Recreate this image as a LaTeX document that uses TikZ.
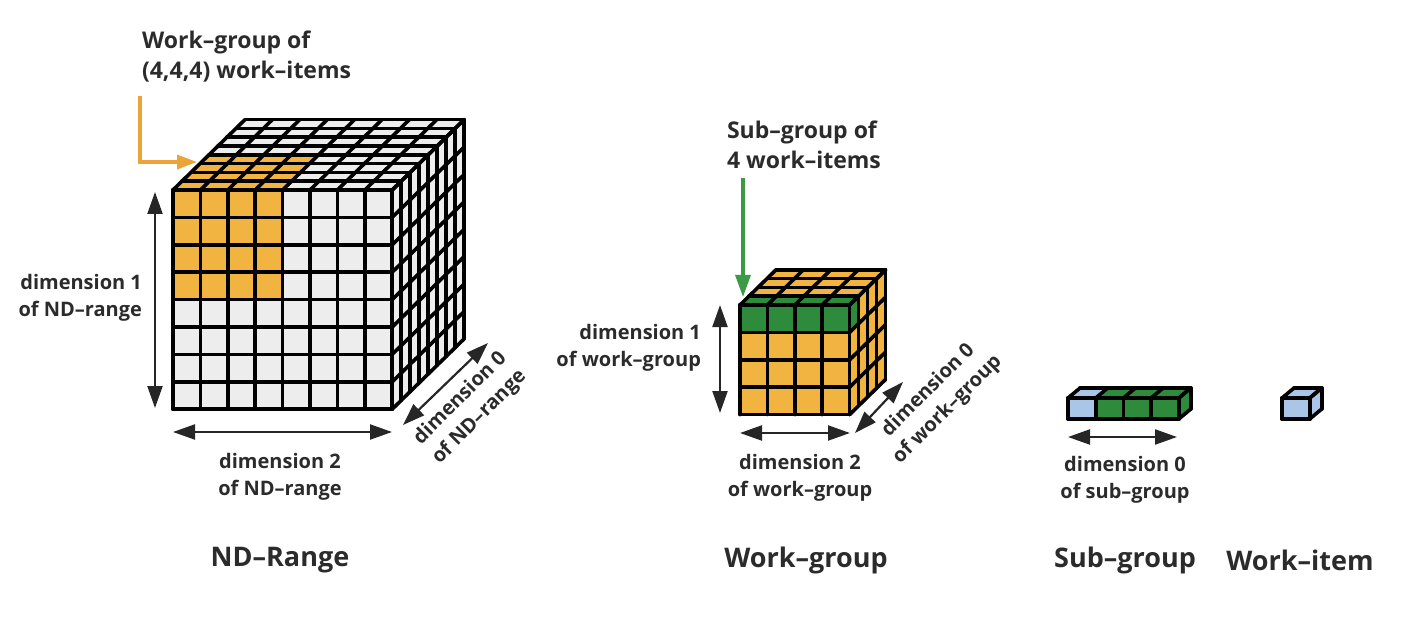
\documentclass[tikz,border=0pt]{standalone}
\usepackage{fontspec}
\setmainfont{Open Sans}
\usetikzlibrary{arrows.meta}
\definecolor{cellgray}{HTML}{EDEDED}
\definecolor{wgorange}{HTML}{F2B441}
\definecolor{sggreen}{HTML}{2E8B3C}
\definecolor{wiblue}{HTML}{A9C6E8}
\definecolor{arroworange}{HTML}{EBA43A}
\definecolor{arrowgreen}{HTML}{3C9A46}
\definecolor{labelgray}{HTML}{2B2B2B}
\tikzset{
  cellline/.style={line width=1.8pt, line join=round, line cap=round},
  bigaxes/.style={x={(13.7pt,0pt)}, y={(0pt,-13.7pt)}, z={(4.5pt,4.4pt)}},
  smallaxes/.style={x={(13.85pt,0pt)}, y={(0pt,-10.5pt)}, z={(6pt,5pt)}},
  dimarrow/.style={{Triangle[length=11pt,width=7.5pt]}-{Triangle[length=11pt,width=7.5pt]}, line width=1.1pt, draw=black!85},
  dimlabel/.style={font=\fontsize{10}{13.5}\selectfont\bfseries, text=labelgray},
  toplabel/.style={font=\fontsize{11.5}{15}\selectfont\bfseries, text=labelgray, align=left},
  paneltitle/.style={font=\fontsize{13.5}{16}\selectfont\bfseries, text=labelgray},
}
% faces of a cube of #1 x #2 x #3 cells, filled with #4
\newcommand{\cubefaces}[4]{
  \fill[#4] (0,0,0) -- (#1,0,0) -- (#1,#2,0) -- (0,#2,0) -- cycle;
  \fill[#4] (0,0,0) -- (#1,0,0) -- (#1,0,#3) -- (0,0,#3) -- cycle;
  \fill[#4] (#1,0,0) -- (#1,0,#3) -- (#1,#2,#3) -- (#1,#2,0) -- cycle;
}
% cell lines of the three faces
\newcommand{\cubegrid}[3]{
  \foreach \i in {0,...,#1} {
    \draw[cellline] (\i,0,0) -- (\i,#2,0);
    \draw[cellline] (\i,0,0) -- (\i,0,#3);
  }
  \foreach \j in {0,...,#2} {
    \draw[cellline] (0,\j,0) -- (#1,\j,0);
    \draw[cellline] (#1,\j,0) -- (#1,\j,#3);
  }
  \foreach \k in {0,...,#3} {
    \draw[cellline] (0,0,\k) -- (#1,0,\k);
    \draw[cellline] (#1,0,\k) -- (#1,#2,\k);
  }
}
\begin{document}
\begin{tikzpicture}[x=0.5pt, y=-0.5pt]
  \useasboundingbox (0,0) rectangle (1408,620);

  % ND-range
  \begin{scope}[shift={(173,190)}, bigaxes]
    \cubefaces{8}{8}{8}{cellgray}
    \fill[wgorange] (0,0,0) -- (4,0,0) -- (4,4,0) -- (0,4,0) -- cycle;
    \fill[wgorange] (0,0,0) -- (4,0,0) -- (4,0,4) -- (0,0,4) -- cycle;
    \cubegrid{8}{8}{8}
  \end{scope}
  \coordinate (ND_wg) at (197,162);
  \coordinate (ND_v0) at (155,192);
  \coordinate (ND_v1) at (155,408);
  \coordinate (ND_h0) at (173,432);
  \coordinate (ND_h1) at (392,432);
  \coordinate (ND_d0) at (403,425);
  \coordinate (ND_d1) at (488,343);
  \node[toplabel, anchor=west] (WG_label) at (135,57) {Work--group of\\(4,4,4) work--items};
  \node[dimlabel, align=right, anchor=east] (ND_dim1) at (149,298) {dimension 1\\of ND--range};
  \node[dimlabel, align=center] (ND_dim2) at (280,477) {dimension 2\\of ND--range};
  \node[dimlabel, align=center, rotate=45] (ND_dim0) at (470,408) {dimension 0\\of ND--range};
  \node[paneltitle] (ND_title) at (280,560) {ND--Range};
  \draw[arroworange, line width=1.6pt, -{Triangle[length=10pt,width=7pt]}] (140,96) |- (ND_wg);
  \draw[dimarrow] (ND_v0) -- (ND_v1);
  \draw[dimarrow] (ND_h0) -- (ND_h1);
  \draw[dimarrow] (ND_d0) -- (ND_d1);

  % work-group
  \begin{scope}[shift={(740,305)}, bigaxes]
    \cubefaces{4}{4}{4}{wgorange}
    \fill[sggreen] (0,0,0) -- (4,0,0) -- (4,1,0) -- (0,1,0) -- cycle;
    \fill[sggreen] (0,0,0) -- (4,0,0) -- (4,0,1) -- (0,0,1) -- cycle;
    \fill[sggreen] (4,0,0) -- (4,0,1) -- (4,1,1) -- (4,1,0) -- cycle;
    \cubegrid{4}{4}{4}
  \end{scope}
  \coordinate (WG_sg) at (743,297);
  \coordinate (WG_v0) at (720,305);
  \coordinate (WG_v1) at (720,413);
  \coordinate (WG_h0) at (740,433);
  \coordinate (WG_h1) at (850,433);
  \coordinate (WG_d0) at (855,433);
  \coordinate (WG_d1) at (903,382);
  \node[toplabel, anchor=west] (SG_label) at (720,145) {Sub--group of\\4 work--items};
  \node[dimlabel, align=right, anchor=east] (WG_dim1) at (708,348) {dimension 1\\of work--group};
  \node[dimlabel, align=center] (WG_dim2) at (800,478) {dimension 2\\of work--group};
  \node[dimlabel, align=center, rotate=45] (WG_dim0) at (938,400) {dimension 0\\of work--group};
  \node[paneltitle] (WG_title) at (806,560) {Work--group};
  \draw[arrowgreen, line width=1.6pt, -{Triangle[length=11pt,width=7.5pt]}] (743,178) -- (WG_sg);
  \draw[dimarrow] (WG_v0) -- (WG_v1);
  \draw[dimarrow] (WG_h0) -- (WG_h1);
  \draw[dimarrow] (WG_d0) -- (WG_d1);

  % sub-group
  \begin{scope}[shift={(1068,398)}, smallaxes]
    \cubefaces{4}{1}{1}{sggreen}
    \fill[wiblue] (0,0,0) -- (1,0,0) -- (1,1,0) -- (0,1,0) -- cycle;
    \fill[wiblue] (0,0,0) -- (1,0,0) -- (1,0,1) -- (0,0,1) -- cycle;
    \cubegrid{4}{1}{1}
  \end{scope}
  \coordinate (SG_h0) at (1068,437);
  \coordinate (SG_h1) at (1177,437);
  \node[dimlabel, align=center] (SG_dim0) at (1125,480) {dimension 0\\of sub--group};
  \node[paneltitle] (SG_title) at (1125,560) {Sub--group};
  \draw[dimarrow] (SG_h0) -- (SG_h1);

  % work-item
  \begin{scope}[shift={(1282,398)}, smallaxes]
    \cubefaces{1}{1}{1}{wiblue}
    \cubegrid{1}{1}{1}
  \end{scope}
  \node[paneltitle] (WI_title) at (1300,560) {Work--item};
\end{tikzpicture}
\end{document}
